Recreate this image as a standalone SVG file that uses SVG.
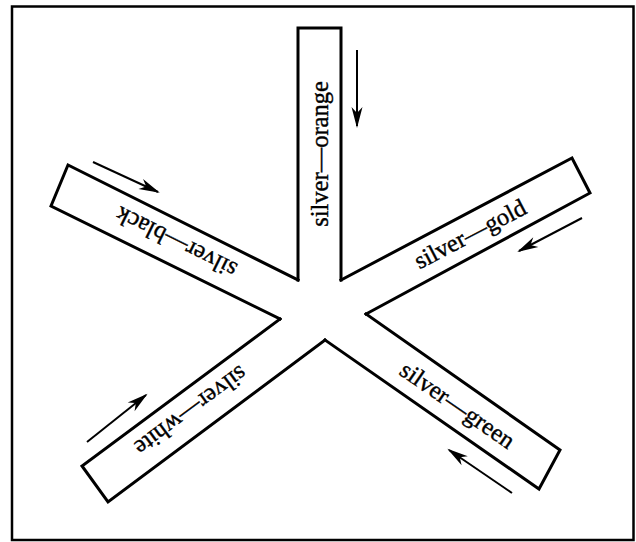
<svg xmlns="http://www.w3.org/2000/svg" width="636" height="542" viewBox="0 0 636 542">
<style>
.bar{fill:none;stroke:#000;stroke-width:3;stroke-linejoin:miter;stroke-linecap:square}
.lbl{font-family:"Liberation Serif","Times New Roman",serif;font-size:24.5px;fill:#000;stroke:#000;stroke-width:0.4;text-anchor:middle}
.arr{stroke:#000;stroke-width:2;fill:none;marker-end:url(#ah)}
</style>
<defs>
<marker id="ah" markerUnits="userSpaceOnUse" markerWidth="26" markerHeight="16" refX="0" refY="0" viewBox="-22 -8 26 16" orient="auto" overflow="visible">
<path d="M2,0 L-19,-5.5 L-13,0 L-19,5.5 Z" fill="#000"/>
</marker>
</defs>
<rect x="12" y="6.5" width="621.5" height="533.5" fill="#fff" stroke="#000" stroke-width="2.5"/>
<g id="silver-orange">
<polyline class="bar" points="298,280 298,28 341,28 341,280"/>
<text class="lbl" transform="translate(319.5,154) rotate(-90)" dy="0.33em">silver—orange</text>
</g>
<g id="silver-gold">
<polyline class="bar" points="341,280 572,158 590,193 366,314"/>
<text class="lbl" transform="translate(470,234) rotate(-27.6)" dy="0.33em">silver—gold</text>
</g>
<g id="silver-green">
<polyline class="bar" points="366,314 560,450 539,489 325,340"/>
<text class="lbl" transform="translate(457.5,405) rotate(34.7)" dy="0.33em">silver—green</text>
</g>
<g id="silver-white">
<polyline class="bar" points="325,340 108,502 82,466 280,319"/>
<text class="lbl" transform="translate(191,411) rotate(143.5)" dy="0.33em">silver—white</text>
</g>
<g id="silver-black">
<polyline class="bar" points="280,319 51,206 68,165 298,280"/>
<text class="lbl" transform="translate(176,242.5) rotate(206.3)" dy="0.33em">silver—black</text>
</g>
<g id="connectors">
<line class="arr" x1="357" y1="50" x2="357" y2="126"/>
<line class="arr" x1="93" y1="162" x2="158" y2="192"/>
<line class="arr" x1="582" y1="218" x2="519" y2="251"/>
<line class="arr" x1="512" y1="493" x2="449" y2="450"/>
<line class="arr" x1="87" y1="442" x2="146" y2="395"/>
</g>
</svg>
